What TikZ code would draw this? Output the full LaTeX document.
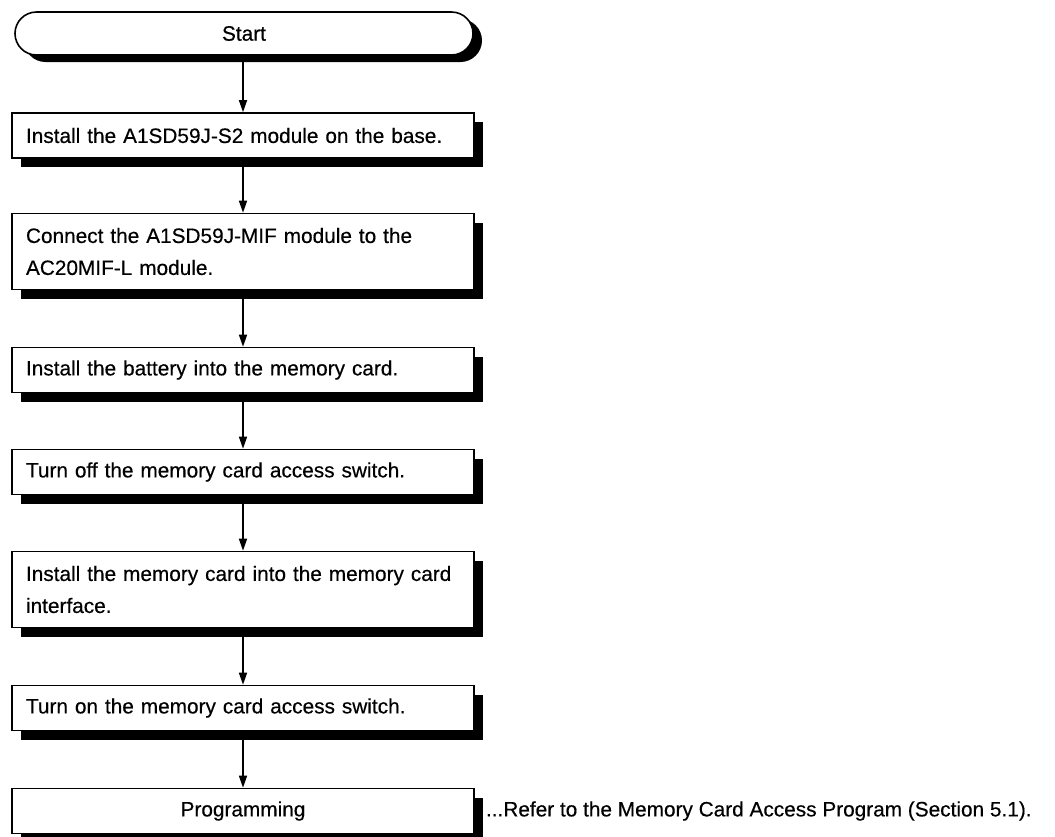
\documentclass[tikz,border=0pt]{standalone}
\usepackage{fontspec}
\setmainfont{Liberation Sans}[FakeBold=0.4]
\usetikzlibrary{arrows.meta,shadows}
\begin{document}
\begin{tikzpicture}[x=1pt,y=1pt,
  every node/.style={font=\fontsize{20.8}{32}\selectfont},
  flowbox/.style={draw=black, line width=1.6pt, fill=white, minimum width=462pt,
    inner xsep=14pt, text width=434pt, align=left, anchor=center,
    drop shadow={shadow xshift=9pt, shadow yshift=-9pt, fill=black, opacity=1}},
  single/.style={minimum height=45pt},
  double/.style={minimum height=76pt},
  term/.style={draw=black, line width=1.6pt, fill=white, minimum width=458pt, minimum height=43pt,
    rounded corners=21.5pt, align=center,
    drop shadow={shadow xshift=9pt, shadow yshift=-7pt, fill=black, opacity=1}},
  flow/.style={line width=1.5pt, -{Triangle[length=12pt,width=8pt]}}
]
\useasboundingbox (0,0) rectangle (1055,-836);
\node[term] (s) at (244,-33.5) {Start};
\node[flowbox,single] (b1) at (243,-135.5) {Install the A1SD59J-S2 module on the base.};
\node[flowbox,double] (b2) at (243,-251.5) {Connect the A1SD59J-MIF module to the\\AC20MIF-L module.};
\node[flowbox,single] (b3) at (243,-370) {Install the battery into the memory card.};
\node[flowbox,single] (b4) at (243,-472) {Turn off the memory card access switch.};
\node[flowbox,double] (b5) at (243,-589.5) {Install the memory card into the memory card\\interface.};
\node[flowbox,single] (b6) at (243,-708) {Turn on the memory card access switch.};
\node[flowbox,single,align=center] (b7) at (243,-811) {Programming};
\node[anchor=west, inner sep=0pt] (ref) at ([xshift=11pt]b7.east) {...Refer to the Memory Card Access Program (Section 5.1).};
\draw[flow] (s.south -| b1.north) -- (b1.north);
\draw[flow] (b1) -- (b2);
\draw[flow] (b2) -- (b3);
\draw[flow] (b3) -- (b4);
\draw[flow] (b4) -- (b5);
\draw[flow] (b5) -- (b6);
\draw[flow] (b6) -- (b7);
\end{tikzpicture}
\end{document}
